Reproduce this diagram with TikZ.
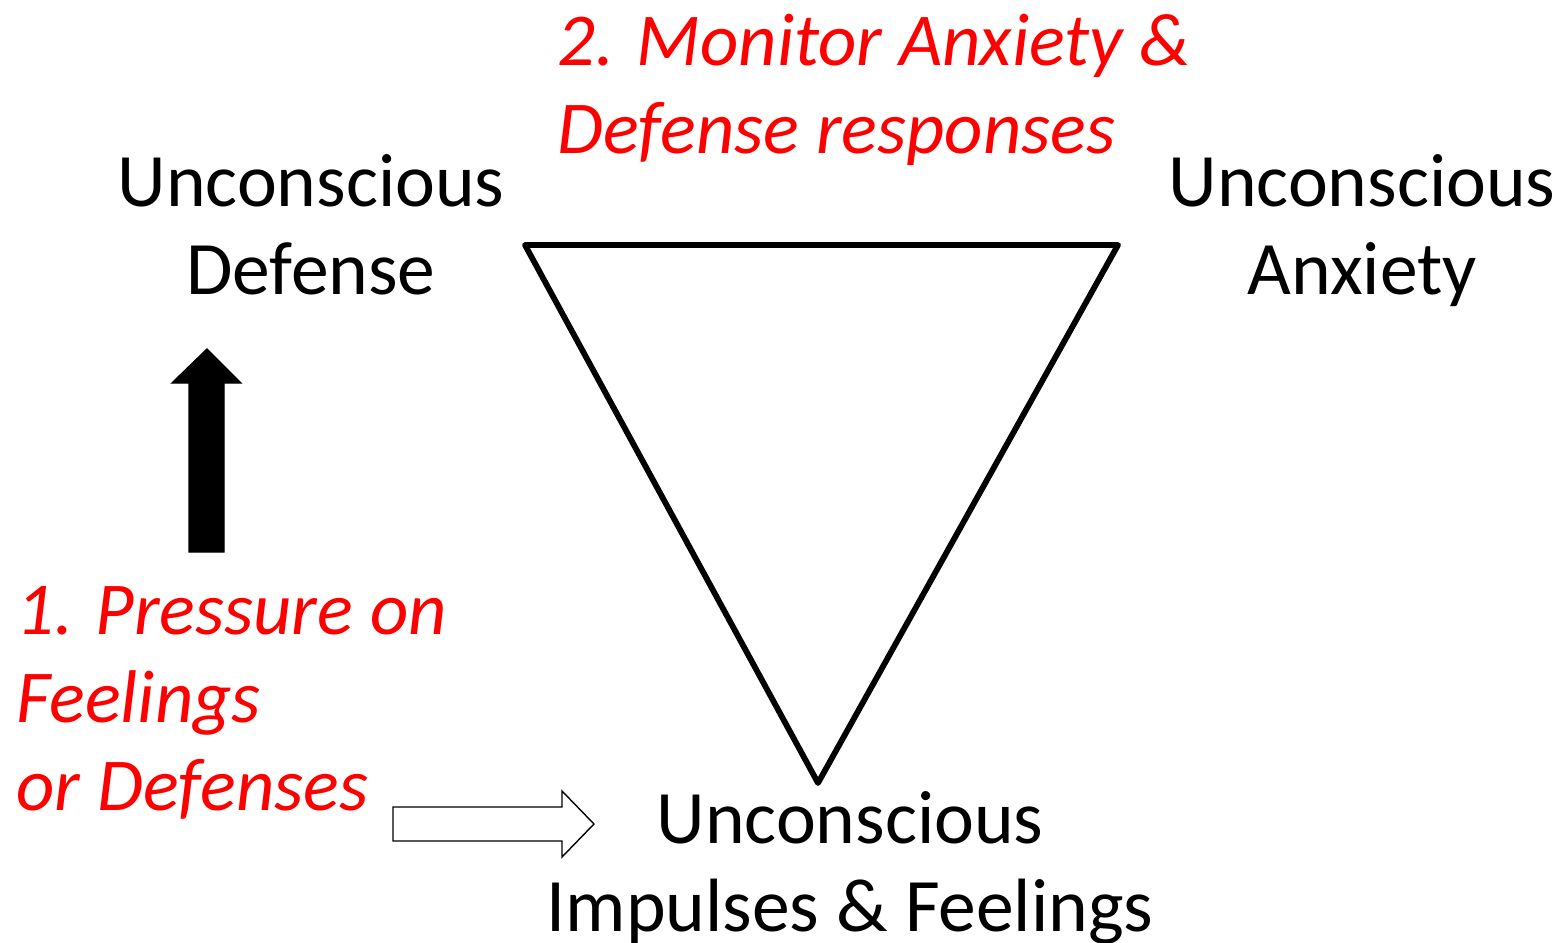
\documentclass[tikz,border=0pt]{standalone}
\usepackage{fontspec}
\setmainfont{Carlito}
\usetikzlibrary{positioning,calc}
\tikzset{lbl/.style={font=\fontsize{43}{50}\selectfont, align=center, inner sep=0pt, anchor=base}}
\tikzset{note/.style={font=\fontsize{42.5}{50}\selectfont\itshape, text=red, align=left, inner sep=0pt, anchor=base west}}
\tikzset{tri/.style={draw, line width=3.3pt, line join=round}}
\tikzset{fatarr/.style={draw, line width=0.8pt, line join=miter}}

\begin{document}
\begin{tikzpicture}[x=0.02cm, y=-0.02cm]
	\useasboundingbox (0,0) rectangle (1563,943);
	% the triangle
	\coordinate (TL) at (525,245);
	\coordinate (TR) at (1118,245);
	\coordinate (B) at (818,783);
	\draw[tri] (TL) -- (TR) -- (B) -- cycle;
	% corner labels (base = last line)
	\node[lbl] (def) at (311,294) {Unconscious\\Defense};
	\node[lbl] (anx) at (1362,294) {Unconscious\\Anxiety};
	\node[lbl] (imp) at (850,931) {Unconscious\\Impulses \& Feelings};
	% red notes
	\node[note] (mon) at (557,153) {2. Monitor Anxiety \&\\Defense responses};
	\node[note] (pres) at (16,810) {1. Pressure on\\Feelings\\or Defenses};
	% black arrow
	\draw[fatarr, fill=black] (189,552) -- (189,383) -- (172,383) -- (207,349)
		-- (241,383) -- (224,383) -- (224,552) -- cycle;
	% white arrow
	\draw[fatarr, fill=white] (393,807) -- (562,807) -- (562,791) -- (594,824)
		-- (562,857) -- (562,841) -- (393,841) -- cycle;
\end{tikzpicture}
\end{document}
